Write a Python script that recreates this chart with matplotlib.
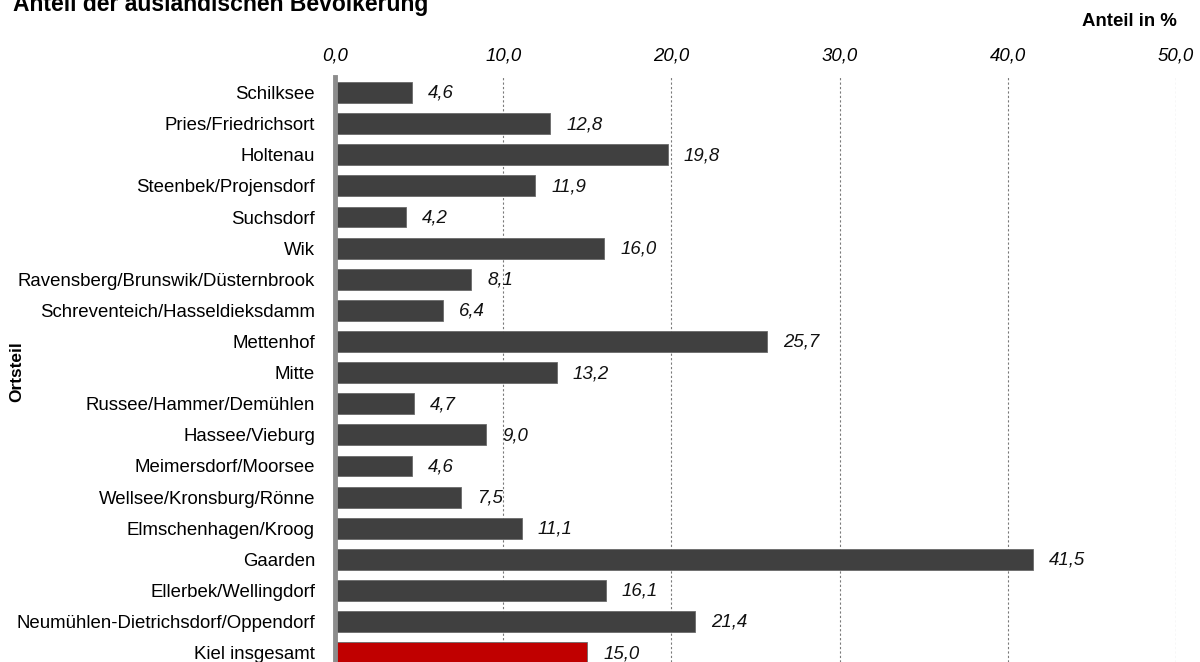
import matplotlib.pyplot as plt

ortsteile = ['Schilksee', 'Pries/Friedrichsort', 'Holtenau', 'Steenbek/Projensdorf',
             'Suchsdorf', 'Wik', 'Ravensberg/Brunswik/Düsternbrook',
             'Schreventeich/Hasseldieksdamm', 'Mettenhof', 'Mitte',
             'Russee/Hammer/Demühlen', 'Hassee/Vieburg', 'Meimersdorf/Moorsee',
             'Wellsee/Kronsburg/Rönne', 'Elmschenhagen/Kroog', 'Gaarden',
             'Ellerbek/Wellingdorf', 'Neumühlen-Dietrichsdorf/Oppendorf', 'Kiel insgesamt']
anteil = [4.6, 12.8, 19.8, 11.9, 4.2, 16.0, 8.1, 6.4, 25.7, 13.2,
          4.7, 9.0, 4.6, 7.5, 11.1, 41.5, 16.1, 21.4, 15.0]
xticks = [0, 10, 20, 30, 40, 50]

plt.rcParams['font.family'] = ['Liberation Sans', 'DejaVu Sans']

fig = plt.figure(figsize=(12, 6.62), dpi=100)
W, H = 1200, 662
ax = fig.add_axes([335 / W, 0, 841 / W, (H - 77) / H])

colors = ['#404040'] * (len(anteil) - 1) + ['#C00000']
pos = list(range(len(anteil)))
ax.barh(pos, anteil, height=0.67, color=colors, edgecolor='#6a6a6a', linewidth=0.6, zorder=3)

# value labels right of each bar
for y, v in zip(pos, anteil):
    ax.text(v + 0.95, y + 0.03, f'{v:.1f}'.replace('.', ','), va='center', ha='left',
            fontsize=13.4, fontstyle='italic', color='#111111', zorder=4)

ax.set_xlim(0, 50)
ax.set_ylim(18.3, -0.5)
ax.set_yticks(pos)
ax.set_yticklabels(ortsteile)
ax.tick_params(axis='y', length=0, pad=14.4, labelsize=13.4)

ax.xaxis.tick_top()
ax.set_xticks(xticks)
ax.set_xticklabels([f'{t:.1f}'.replace('.', ',') for t in xticks], fontstyle='italic', fontsize=13.4)
ax.tick_params(axis='x', length=0, pad=9)

for t in xticks[1:]:
    ax.axvline(t, color='#7a7a7a', linestyle=(0, (2, 2)), linewidth=0.8, zorder=1)

for s in ['top', 'right', 'bottom']:
    ax.spines[s].set_visible(False)
ax.spines['left'].set_color('#8c8c8c')
ax.spines['left'].set_linewidth(3.5)
ax.spines['left'].set_zorder(5)

# title sits partly above the figure edge, as in the original
fig.text(13 / W, 1 - 11 / H, 'Anteil der ausländischen Bevölkerung', fontsize=16.5,
         fontweight='bold', ha='left', va='baseline')
fig.text(1177 / W, 1 - 26 / H, 'Anteil in %', fontsize=13.4, fontweight='bold',
         ha='right', va='baseline')
fig.text(17 / W, 1 - 372 / H, 'Ortsteil', fontsize=12.4, fontweight='bold',
         rotation=90, ha='center', va='center')

fig.savefig('out.png', dpi=100)
